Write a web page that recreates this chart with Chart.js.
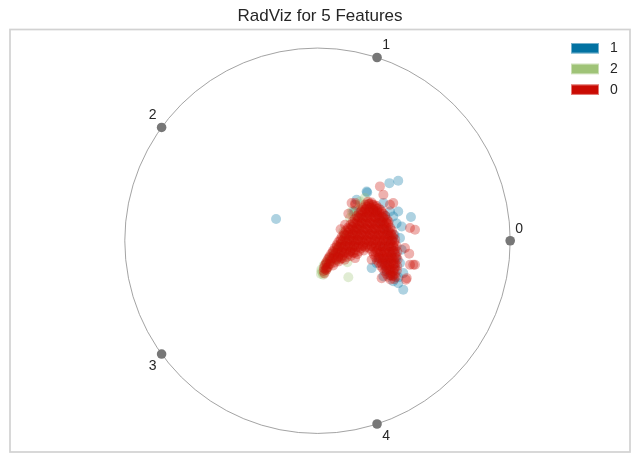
<!DOCTYPE html>
<html>
<head>
<meta charset="utf-8">
<script src="https://cdn.jsdelivr.net/npm/chart.js@4.4.1/dist/chart.umd.min.js"></script>
<style>
  html, body { margin: 0; padding: 0; background: #fff; }
  #wrap { width: 640px; height: 463px; }
</style>
</head>
<body>
<div id="wrap"><canvas id="radviz" width="640" height="463"></canvas></div>
<script>
// Feature anchors on the unit circle and their names
const featureNames = ['0', '1', '2', '3', '4'];
const anchorPoints = [[1, 0], [0.309, 0.951], [-0.809, 0.588], [-0.809, -0.588], [0.309, -0.951]];

// Legend order and colours of the classes
const classNames = ['1', '2', '0'];
const classColors = { '1': '#0272a2', '2': '#9fc377', '0': '#ca0b03' };

// Class 0 (red) - dense core plus the scattered points round it
const class0Points = [
  [0.262,0.203],[0.281,0.198],
  [0.248,0.188],[0.270,0.192],[0.292,0.186],[0.305,0.181],
  [0.238,0.172],[0.258,0.177],[0.279,0.171],[0.298,0.175],[0.318,0.169],
  [0.229,0.158],[0.247,0.162],[0.268,0.156],[0.289,0.161],[0.309,0.155],[0.329,0.159],
  [0.214,0.143],[0.236,0.148],[0.257,0.141],[0.279,0.146],[0.301,0.142],[0.322,0.147],[0.341,0.140],
  [0.204,0.128],[0.226,0.133],[0.248,0.127],[0.268,0.132],[0.291,0.126],[0.312,0.131],[0.333,0.125],[0.352,0.130],
  [0.193,0.113],[0.215,0.118],[0.236,0.112],[0.259,0.117],[0.281,0.111],[0.302,0.116],[0.323,0.110],[0.344,0.115],[0.361,0.109],
  [0.183,0.098],[0.205,0.103],[0.227,0.097],[0.249,0.102],[0.270,0.096],[0.292,0.101],[0.313,0.095],[0.335,0.100],[0.356,0.094],[0.369,0.099],
  [0.171,0.083],[0.193,0.088],[0.216,0.082],[0.238,0.087],[0.260,0.081],[0.282,0.086],[0.304,0.080],[0.326,0.085],[0.347,0.079],[0.368,0.084],
  [0.158,0.068],[0.181,0.073],[0.203,0.067],[0.225,0.072],[0.248,0.066],[0.270,0.071],[0.293,0.065],[0.315,0.070],[0.337,0.064],[0.358,0.069],[0.378,0.066],
  [0.147,0.053],[0.170,0.058],[0.192,0.052],[0.214,0.057],[0.237,0.051],[0.259,0.056],[0.282,0.050],[0.304,0.055],[0.326,0.049],[0.348,0.054],[0.369,0.048],[0.386,0.053],
  [0.137,0.038],[0.159,0.043],[0.181,0.037],[0.204,0.042],[0.226,0.036],[0.249,0.041],[0.271,0.035],[0.294,0.040],[0.316,0.034],[0.338,0.039],[0.360,0.033],[0.380,0.038],[0.394,0.032],
  [0.127,0.023],[0.149,0.028],[0.172,0.022],[0.194,0.027],[0.217,0.021],[0.239,0.026],[0.262,0.020],[0.284,0.025],[0.307,0.019],[0.329,0.024],[0.351,0.018],[0.373,0.023],[0.392,0.017],
  [0.118,0.008],[0.140,0.013],[0.162,0.007],[0.185,0.012],[0.207,0.006],[0.230,0.011],[0.252,0.005],[0.275,0.010],[0.297,0.004],[0.320,0.009],[0.342,0.003],[0.364,0.008],[0.386,0.002],[0.403,0.007],
  [0.108,-0.007],[0.130,-0.002],[0.153,-0.008],[0.176,-0.003],[0.198,-0.009],[0.221,-0.004],[0.243,-0.010],[0.266,-0.005],[0.289,-0.011],[0.311,-0.006],[0.334,-0.012],[0.356,-0.007],[0.378,-0.013],[0.399,-0.008],
  [0.099,-0.022],[0.121,-0.017],[0.144,-0.023],[0.167,-0.018],[0.189,-0.024],[0.212,-0.019],[0.235,-0.025],[0.257,-0.020],[0.280,-0.026],[0.303,-0.021],[0.325,-0.027],[0.347,-0.022],[0.370,-0.028],[0.392,-0.023],[0.410,-0.027],
  [0.090,-0.037],[0.112,-0.032],[0.135,-0.038],[0.158,-0.033],[0.180,-0.039],[0.203,-0.034],[0.226,-0.040],[0.249,-0.035],[0.272,-0.041],[0.294,-0.036],[0.317,-0.042],[0.339,-0.037],[0.361,-0.043],[0.383,-0.038],[0.404,-0.042],
  [0.081,-0.052],[0.103,-0.047],[0.126,-0.053],[0.149,-0.048],[0.171,-0.054],[0.194,-0.049],[0.216,-0.055],[0.240,-0.050],[0.285,-0.056],[0.308,-0.051],[0.330,-0.057],[0.352,-0.052],[0.375,-0.058],[0.397,-0.053],[0.414,-0.057],
  [0.072,-0.067],[0.094,-0.062],[0.117,-0.068],[0.139,-0.063],[0.162,-0.069],[0.185,-0.064],[0.206,-0.070],[0.292,-0.071],[0.315,-0.066],[0.337,-0.072],[0.360,-0.067],[0.382,-0.073],[0.404,-0.068],
  [0.062,-0.082],[0.085,-0.077],[0.107,-0.083],[0.130,-0.078],[0.152,-0.084],[0.173,-0.079],[0.300,-0.085],[0.322,-0.080],[0.345,-0.086],[0.367,-0.081],[0.389,-0.087],[0.410,-0.082],
  [0.053,-0.097],[0.076,-0.092],[0.098,-0.098],[0.121,-0.093],[0.141,-0.099],[0.308,-0.100],[0.330,-0.095],[0.352,-0.101],[0.374,-0.096],[0.396,-0.102],[0.416,-0.097],
  [0.045,-0.112],[0.067,-0.107],[0.090,-0.113],[0.110,-0.108],[0.318,-0.114],[0.340,-0.109],[0.362,-0.115],[0.384,-0.110],[0.405,-0.116],
  [0.038,-0.127],[0.060,-0.122],[0.081,-0.128],[0.328,-0.129],[0.350,-0.124],[0.372,-0.130],[0.394,-0.125],[0.414,-0.131],
  [0.033,-0.142],[0.054,-0.137],[0.338,-0.143],[0.360,-0.138],[0.382,-0.144],[0.403,-0.139],
  [0.032,-0.157],[0.046,-0.152],[0.348,-0.158],[0.370,-0.153],[0.392,-0.159],[0.412,-0.154],
  [0.036,-0.170],[0.358,-0.172],[0.380,-0.167],[0.401,-0.173],
  [0.367,-0.187],[0.388,-0.182],[0.406,-0.188],
  [0.378,-0.201],[0.398,-0.199],
  // second, offset layer through the core
  [0.265,0.19],[0.285,0.188],
  [0.252,0.165],[0.271,0.167],[0.291,0.163],[0.311,0.166],
  [0.225,0.150],[0.246,0.152],[0.266,0.148],[0.290,0.151],[0.310,0.147],[0.334,0.149],
  [0.209,0.121],[0.231,0.118],[0.254,0.122],[0.276,0.119],[0.299,0.121],[0.321,0.118],[0.341,0.122],
  [0.186,0.091],[0.208,0.089],[0.231,0.092],[0.254,0.088],[0.276,0.091],[0.299,0.089],[0.321,0.092],[0.344,0.088],[0.361,0.091],
  [0.161,0.061],[0.184,0.059],[0.206,0.062],[0.229,0.058],[0.254,0.061],[0.276,0.059],[0.299,0.062],[0.321,0.058],[0.344,0.061],[0.369,0.059],
  [0.141,0.031],[0.164,0.029],[0.186,0.032],[0.209,0.028],[0.231,0.031],[0.254,0.029],[0.276,0.032],[0.299,0.028],[0.321,0.031],[0.344,0.029],[0.366,0.032],[0.384,0.028],
  [0.121,0.001],[0.144,-0.002],[0.166,0.002],[0.189,-0.001],[0.211,0.002],[0.234,-0.002],[0.256,0.001],[0.279,-0.002],[0.301,0.002],[0.324,-0.001],[0.346,0.002],[0.369,-0.002],[0.389,0.001],
  [0.101,-0.029],[0.124,-0.032],[0.146,-0.028],[0.169,-0.031],[0.191,-0.028],[0.214,-0.032],[0.236,-0.029],[0.259,-0.031],[0.281,-0.028],[0.304,-0.032],[0.326,-0.029],[0.349,-0.031],[0.371,-0.028],[0.394,-0.032],
  [0.081,-0.059],[0.104,-0.062],[0.126,-0.058],[0.149,-0.061],[0.171,-0.058],[0.194,-0.062],[0.301,-0.059],[0.324,-0.062],[0.346,-0.058],[0.369,-0.061],[0.389,-0.059],
  [0.061,-0.089],[0.084,-0.091],[0.106,-0.088],[0.129,-0.091],[0.316,-0.089],[0.339,-0.092],[0.361,-0.088],[0.384,-0.091],[0.401,-0.089],
  [0.046,-0.119],[0.069,-0.121],[0.334,-0.119],[0.356,-0.122],[0.379,-0.118],[0.399,-0.121],
  [0.041,-0.149],[0.356,-0.149],[0.376,-0.152],[0.396,-0.148],
  [0.376,-0.179],[0.394,-0.181],
  // scattered
  [0.324,0.282],[0.342,0.239],[0.177,0.196],[0.143,0.083],[0.480,0.066],[0.454,-0.038],
  [0.506,-0.125],[0.480,-0.125],[0.463,-0.194],[0.333,-0.194],[0.195,-0.090],[0.281,-0.099],
  [0.393,0.196],[0.497,-0.125],[0.476,-0.067],[0.459,-0.202],[0.048,-0.142],[0.376,0.187],[0.195,0.187],
  [0.506,0.057],[0.160,0.140],[0.120,0.060],[0.196,0.196]
];

// Class 2 (green)
const class2Points = [
  [0.030,-0.176],[0.022,-0.159],[0.039,-0.125],[0.065,-0.099],[0.082,-0.073],[0.108,-0.038],
  [0.126,-0.012],[0.150,0.030],[0.177,0.074],[0.203,0.126],[0.229,0.178],[0.246,0.222],
  [0.160,-0.189],[0.155,-0.112],[0.048,-0.116],[0.169,0.118],[0.134,0.048],[0.028,-0.168],
  [0.100,-0.060],[0.130,-0.040],[0.160,-0.020],[0.120,-0.080],[0.150,0.000],[0.180,0.020],
  [0.200,0.050],[0.220,0.080],[0.170,-0.050],[0.090,-0.100],[0.060,-0.120],[0.050,-0.140],
  [0.140,0.030],[0.240,0.120],[0.210,0.000],[0.190,-0.030],[0.250,0.150],[0.270,0.180],
  [0.110,-0.030],[0.070,-0.090],[0.045,-0.150],[0.035,-0.165],
  [0.018,-0.172],[0.020,-0.150],[0.032,-0.130],[0.050,-0.108],[0.068,-0.084],[0.088,-0.060],
  [0.104,-0.042],[0.118,-0.022],[0.132,0.004],[0.205,0.160],[0.222,0.190],[0.186,0.130],
  [0.221,0.204],[0.177,0.152],[0.108,-0.099]
];

// Class 1 (blue)
const class1Points = [
  [-0.215,0.113],[0.373,0.299],[0.419,0.311],[0.255,0.256],[0.258,0.250],[0.485,0.123],
  [0.281,-0.142],[0.445,-0.254],[0.428,0.014],[0.195,0.152],[0.419,0.152],[0.437,0.074],
  [0.437,-0.047],[0.428,-0.116],[0.445,-0.168],[0.419,-0.220],[0.393,-0.210],[0.307,-0.116],
  [0.342,-0.185],[0.203,0.213],[0.186,0.152],[0.342,0.196],[0.376,0.152],[0.393,0.126],
  [0.360,0.050],[0.380,0.000],[0.390,-0.050],[0.370,-0.100],[0.350,-0.130],[0.400,-0.150],
  [0.380,-0.180],[0.330,0.100],[0.350,0.130],[0.300,0.150],[0.320,-0.090],[0.340,-0.030],
  [0.360,-0.160],[0.400,0.030],[0.410,-0.090],[0.420,-0.190],[0.410,0.090]
];

function toXY(list) { return list.map(p => ({ x: p[0], y: p[1] })); }
function rgba(hex, a) {
  const n = parseInt(hex.slice(1), 16);
  return `rgba(${(n >> 16) & 255},${(n >> 8) & 255},${n & 255},${a})`;
}

const FONT = '"Liberation Sans", Arial, sans-serif';

// circle, frame, anchor labels and legend
const radvizDecor = {
  id: 'radvizDecor',
  beforeDatasetsDraw(chart) {
    const { ctx, scales: { x, y } } = chart;
    const cx = x.getPixelForValue(0), cy = y.getPixelForValue(0);
    const rx = x.getPixelForValue(1) - cx, ry = cy - y.getPixelForValue(1);
    ctx.save();
    ctx.strokeStyle = '#8c8c8c';
    ctx.lineWidth = 0.8;
    ctx.beginPath();
    ctx.ellipse(cx, cy, rx, ry, 0, 0, Math.PI * 2);
    ctx.stroke();
    ctx.restore();
  },
  afterDraw(chart) {
    const { ctx, chartArea, scales: { x, y } } = chart;
    ctx.save();
    // frame
    ctx.strokeStyle = '#d2d2d2';
    ctx.lineWidth = 1.7;
    ctx.strokeRect(chartArea.left, chartArea.top, chartArea.right - chartArea.left, chartArea.bottom - chartArea.top);

    // anchor labels
    ctx.fillStyle = '#262626';
    ctx.font = '14px ' + FONT;
    ctx.textAlign = 'center';
    ctx.textBaseline = 'middle';
    anchorPoints.forEach((p, i) => {
      const px = x.getPixelForValue(p[0]), py = y.getPixelForValue(p[1]);
      const sx = p[0] >= 0 ? 1 : -1;
      const sy = p[1] >= 0 ? 1 : -1;
      ctx.fillText(featureNames[i], px + sx * 9, py - sy * 12);
    });

    // legend
    ctx.font = '14px ' + FONT;
    ctx.textAlign = 'left';
    classNames.forEach((name, i) => {
      const top = 43 + i * 20.7;
      ctx.fillStyle = classColors[name];
      ctx.fillRect(571, top, 28, 10.5);
      ctx.strokeStyle = 'rgba(255,255,255,0.45)';
      ctx.lineWidth = 1;
      ctx.strokeRect(571.5, top + 0.5, 27, 9.5);
      ctx.fillStyle = '#262626';
      ctx.fillText(name, 610, top + 5.5);
    });
    ctx.restore();
  }
};

const pointAlpha = 0.32;
new Chart(document.getElementById('radviz'), {
  type: 'scatter',
  data: {
    datasets: [
      { label: 'anchors', data: toXY(anchorPoints), backgroundColor: '#777777', pointRadius: 4.8, borderWidth: 0 },
      { label: '0', data: toXY(class0Points), backgroundColor: rgba(classColors['0'], pointAlpha), pointRadius: 5, borderWidth: 0 },
      { label: '2', data: toXY(class2Points), backgroundColor: rgba(classColors['2'], pointAlpha), pointRadius: 5, borderWidth: 0 },
      { label: '1', data: toXY(class1Points), backgroundColor: rgba(classColors['1'], pointAlpha), pointRadius: 5, borderWidth: 0 }
    ]
  },
  options: {
    responsive: false,
    animation: false,
    events: [],
    layout: { padding: { left: 10, right: 10, top: 0, bottom: 11 } },
    scales: {
      x: { type: 'linear', min: -1.5957, max: 1.6217, display: false },
      y: { type: 'linear', min: -1.0963, max: 1.0963, display: false }
    },
    plugins: {
      legend: { display: false },
      tooltip: { enabled: false },
      title: {
        display: true,
        text: 'RadViz for 5 Features',
        color: '#262626',
        font: { family: FONT, size: 17, weight: 'normal' },
        padding: { top: 6, bottom: 3.1 }
      }
    }
  },
  plugins: [radvizDecor]
});
</script>
</body>
</html>
